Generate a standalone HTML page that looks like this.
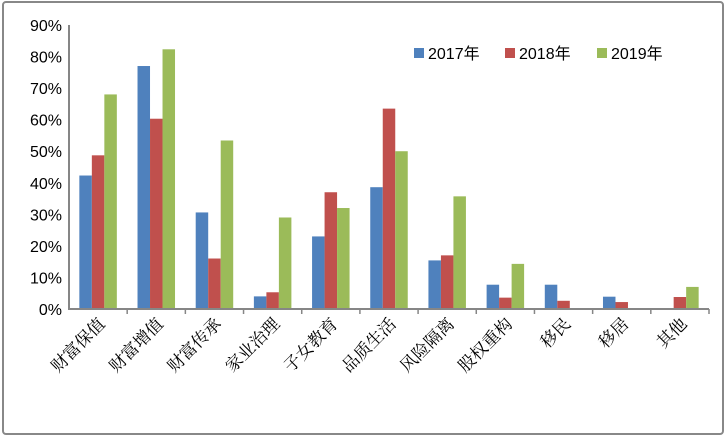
<!DOCTYPE html>
<html><head><meta charset="utf-8"><style>
body{margin:0;background:#fff;}
svg{display:block;}
text{font-family:"Liberation Sans","Noto Sans CJK SC",sans-serif;}
.cat{font-family:"Liberation Serif","Noto Serif CJK SC",serif;font-size:17px;}
</style></head><body>
<svg id="chart" width="727" height="439">
<rect x="3" y="2" width="720" height="432" rx="3" fill="#fff" stroke="#888" stroke-width="2"/>
<g id="plot"></g>
</svg>
<script>
const categories=["财富保值","财富增值","财富传承","家业治理","子女教育","品质生活","风险隔离","股权重构","移民","移居","其他"];
const s2017=[42.3,77,30.6,4,23,38.6,15.4,7.7,7.7,3.9,0];
const s2018=[48.7,60.3,16,5.3,37,63.5,17,3.6,2.6,2.2,3.8];
const s2019=[68,82.3,53.4,29,32,50,35.7,14.3,0,0,7];
const seriesNames=["2017年","2018年","2019年"];
const yTicks=[0,10,20,30,40,50,60,70,80,90];
const colors=["#4F81BD","#C0504D","#9BBB59"];
const X0=69,X1=709,Y0=309,Y1=25,YMAX=90;
const ns="http://www.w3.org/2000/svg";
const g=document.getElementById('plot');
const y=v=>Y0-(v/YMAX)*(Y0-Y1);
const step=(X1-X0)/categories.length;
const xc=i=>X0+step*(i+0.5);
function mk(t,a){const e=document.createElementNS(ns,t);for(const k in a)e.setAttribute(k,a[k]);g.appendChild(e);return e;}
yTicks.forEach(t=>{
 const e=mk('text',{x:62,y:y(t)+6,'text-anchor':'end','font-size':'16',fill:'#000'});
 e.textContent=t+'%';
 
 
});
const series=[s2017,s2018,s2019];
const bw=12.5;
series.forEach((s,si)=>{
 s.forEach((v,i)=>{
  const r=mk('rect',{x:xc(i)+(si-1.5)*bw,y:y(v),width:bw,height:Y0-y(v),fill:colors[si]});
  
  
 });
});
const ax=mk('path',{d:`M${X0},${Y1} V${Y0} H${X1}`,fill:'none',stroke:'#868686','stroke-width':'2'});


for(let i=1;i<=categories.length;i++){
 const t=mk('line',{x1:X0+step*i,x2:X0+step*i,y1:Y0,y2:Y0+5,stroke:'#868686','stroke-width':'1.5'});
 
 
}
categories.forEach((c,i)=>{
 const x=xc(i)+8,yy=Y0+16;
 const e=mk('text',{x:x,y:yy,'text-anchor':'end',class:'cat',transform:`rotate(-45 ${x} ${yy})`});
 e.textContent=c;
 
 
});
const lx=[414,505,597];
seriesNames.forEach((n,si)=>{
 const r=mk('rect',{x:lx[si],y:48,width:10,height:10,fill:colors[si]});
 
 
 const t=mk('text',{x:lx[si]+14,y:59,'font-size':'16',fill:'#000'});
 t.textContent=n;
 
 
});
</script>
</body></html>
